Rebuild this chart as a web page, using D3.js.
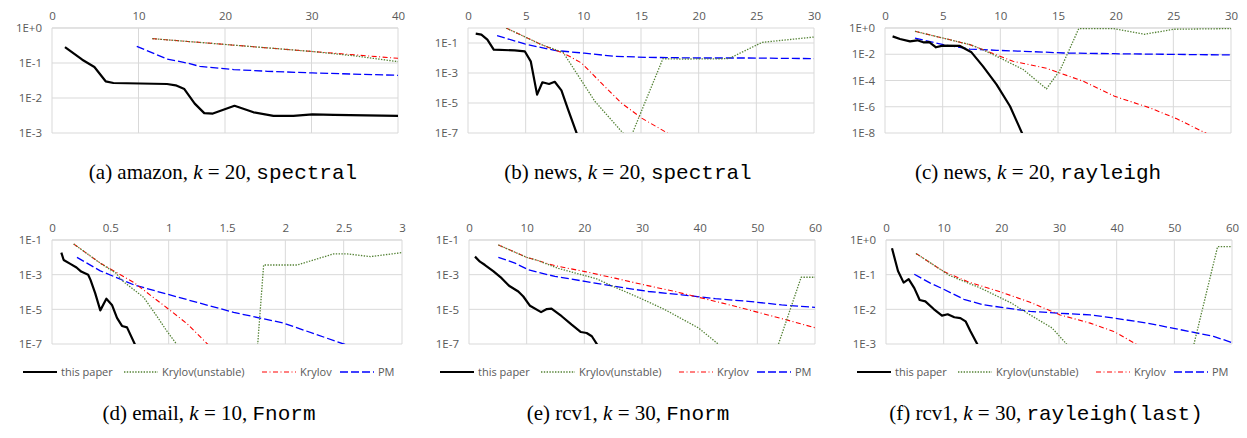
<!DOCTYPE html>
<html><head><meta charset="utf-8">
<script src="https://cdn.jsdelivr.net/npm/d3@7"></script>
<style>
body{margin:0;background:#fff;}
svg{display:block;}
.tick-label{font-family:"Open Sans","Noto Sans",sans-serif;font-size:11.5px;fill:#595959;}
.legend-label{font-family:"Open Sans","Noto Sans",sans-serif;font-size:11px;fill:#595959;}
.caption{font-family:"Liberation Serif","DejaVu Serif",serif;font-size:21px;fill:#000;}
.mono{font-family:"Liberation Mono","DejaVu Sans Mono",monospace;font-size:21px;}
</style></head>
<body>
<svg id="chart" width="1247" height="438"></svg>
<script>
// ---------- DATA ----------
const seriesNames = ["this paper", "Krylov(unstable)", "Krylov", "PM"];

// (a) amazon, k=20, spectral
const a_xTicks = [0, 10, 20, 30, 40];
const a_xLabels = ["0", "10", "20", "30", "40"];
const a_yTicks = [1, 1e-1, 1e-2, 1e-3];
const a_yLabels = ["1E+0", "1E-1", "1E-2", "1E-3"];
const a_thisPaper = [[1.5,0.286],[3.5,0.124],[4.9,0.077],[6.2,0.030],[7.1,0.0268],[13.3,0.0251],[14.3,0.023],[15.3,0.018],[16.5,0.0069],[17.6,0.0037],[18.6,0.0036],[21.1,0.006],[23.3,0.0039],[25.6,0.0031],[27.9,0.0031],[30.1,0.0034],[32.6,0.0033],[40,0.0031]];
const a_krylovUnstable = [[11.6,0.496],[20,0.339],[30,0.214],[35,0.16],[40,0.109]];
const a_krylov = [[11.6,0.496],[20,0.339],[30,0.214],[40,0.136]];
const a_pm = [[9.8,0.30],[12.1,0.173],[13.3,0.13],[15.6,0.10],[17.1,0.080],[21,0.065],[24.9,0.058],[30.1,0.052],[34.5,0.0485],[40,0.0445]];

// (b) news, k=20, spectral
const b_xTicks = [0, 5, 10, 15, 20, 25, 30];
const b_xLabels = ["0", "5", "10", "15", "20", "25", "30"];
const b_yTicks = [1e-1, 1e-3, 1e-5, 1e-7];
const b_yLabels = ["1E-1", "1E-3", "1E-5", "1E-7"];
const b_thisPaper = [[0.67,0.42],[1.16,0.36],[1.68,0.17],[2.23,0.036],[4.05,0.032],[4.92,0.028],[5.44,0.006],[5.99,3.6e-5],[6.45,2.4e-4],[7.03,1.85e-4],[7.52,2.6e-4],[8.1,7e-5],[8.68,3.6e-6],[9.46,8e-8]];
const b_krylovUnstable = [[3.3,1.0],[6.36,0.078],[8.24,0.024],[11,1.3e-5],[14.0,3.2e-8],[16.9,9e-3],[18.5,8.5e-3],[22.6,9e-3],[25.5,0.11],[30,0.25]];
const b_krylov = [[3.3,1.0],[6.36,0.078],[8.39,0.019],[9.83,4.7e-3],[11.57,2.1e-4],[13.3,1e-5],[15.04,1e-6],[17.5,8e-8]];
const b_pm = [[2.52,0.31],[4.92,0.086],[7.52,0.032],[10.1,0.021],[12.7,0.013],[15.6,0.011],[20,0.010],[24.3,0.010],[30,0.0091]];

// (c) news, k=20, rayleigh
const c_xTicks = [0, 5, 10, 15, 20, 25, 30];
const c_xLabels = ["0", "5", "10", "15", "20", "25", "30"];
const c_yTicks = [1, 1e-2, 1e-4, 1e-6, 1e-8];
const c_yLabels = ["1E+0", "1E-2", "1E-4", "1E-6", "1E-8"];
const c_thisPaper = [[0.66,0.23],[1.3,0.145],[2.17,0.096],[2.8,0.115],[3.32,0.081],[3.84,0.085],[4.42,0.034],[5.0,0.045],[6.5,0.043],[7.5,0.014],[8.5,1.2e-3],[9.68,4.9e-5],[10.84,1.1e-6],[11.9,9e-9]];
const c_krylovUnstable = [[2.6,0.56],[7.37,0.054],[8.5,0.022],[10.26,3.9e-3],[12,6.7e-4],[14,2.3e-5],[15.2,6.7e-4],[16.8,0.9],[19.8,0.9],[22.5,0.33],[25,0.8],[30,0.9]];
const c_krylov = [[2.6,0.56],[7.37,0.054],[11.1,2.9e-3],[14,8.5e-4],[17.2,8.7e-5],[19.9,6.3e-6],[23,8e-7],[25.3,1.2e-7],[27.9,9e-9]];
const c_pm = [[2.6,0.17],[5.06,0.054],[7.37,0.025],[9.68,0.020],[12.6,0.016],[15.5,0.0125],[19.8,0.011],[24.1,0.010],[30,0.0088]];

// (d) email, k=10, Fnorm
const d_xTicks = [0, 0.5, 1, 1.5, 2, 2.5, 3];
const d_xLabels = ["0", "0.5", "1", "1.5", "2", "2.5", "3"];
const d_yTicks = [1e-1, 1e-3, 1e-5, 1e-7];
const d_yLabels = ["1E-1", "1E-3", "1E-5", "1E-7"];
const d_thisPaper = [[0.08,0.0187],[0.1,7e-3],[0.157,4.2e-3],[0.21,2.6e-3],[0.25,1.5e-3],[0.31,9.8e-4],[0.33,5e-4],[0.37,8.6e-5],[0.414,8.7e-6],[0.466,4.1e-5],[0.514,1.8e-5],[0.557,3.2e-6],[0.6,1.1e-6],[0.643,9.1e-7],[0.714,8.5e-8]];
const d_krylovUnstable = [[0.186,0.059],[0.414,4.6e-3],[0.55,1.2e-3],[0.6,4.6e-4],[0.786,4.9e-5],[0.9,3.9e-6],[0.986,5.4e-7],[1.70,2e-13],[1.814,3.6e-3],[2.1,3.6e-3],[2.414,0.0158],[2.53,0.0158],[2.73,0.011],[3,0.0187]];
const d_krylov = [[0.186,0.059],[0.414,4.6e-3],[0.7,3.6e-4],[0.986,1.2e-5],[1.157,1.5e-6],[1.343,8.5e-8]];
const d_pm = [[0.214,0.010],[0.414,1.66e-3],[0.7,2.6e-4],[0.986,7.5e-5],[1.557,6.7e-6],[1.986,1.6e-6],[2.53,8.5e-8]];

// (e) rcv1, k=30, Fnorm
const e_xTicks = [0, 10, 20, 30, 40, 50, 60];
const e_xLabels = ["0", "10", "20", "30", "40", "50", "60"];
const e_yTicks = [1e-1, 1e-3, 1e-5, 1e-7];
const e_yLabels = ["1E-1", "1E-3", "1E-5", "1E-7"];
const e_thisPaper = [[1.04,0.011],[1.9,5.6e-3],[2.77,3.6e-3],[4.2,1.6e-3],[5.66,6.3e-4],[6.94,2.3e-4],[8.55,1.07e-4],[9.42,5.5e-5],[10.58,1.6e-5],[12.5,6.9e-6],[13.5,1.04e-5],[14.3,1.1e-5],[16.07,4e-6],[17.8,1.3e-6],[19.4,4.9e-7],[20.4,4.3e-7],[21.3,2.8e-7],[22.3,8.5e-8]];
const e_krylovUnstable = [[5.09,0.052],[10,0.01],[12,6.5e-3],[15.5,2.3e-3],[22.1,5.8e-4],[25.3,1.9e-4],[29.9,4.1e-5],[34,9.5e-6],[39.8,8.4e-7],[51.4,6e-10],[57.6,7.1e-4],[60,7.1e-4]];
const e_krylov = [[5.09,0.052],[10,0.01],[14.9,3.3e-3],[20.1,1.5e-3],[25.3,6.3e-4],[29.9,2.8e-4],[35.7,1.07e-4],[39.8,5e-5],[45.5,1.7e-5],[50.2,6.6e-6],[55.4,2.3e-6],[60,8.7e-7]];
const e_pm = [[5.09,0.010],[7.98,4.6e-3],[10.3,1.9e-3],[14.9,7.9e-4],[20.1,4.1e-4],[25.3,2.1e-4],[31.1,1.07e-4],[36.9,6.9e-5],[42.7,4.1e-5],[48.4,2.9e-5],[54.2,1.8e-5],[60,1.3e-5]];

// (f) rcv1, k=30, rayleigh(last)
const f_xTicks = [0, 10, 20, 30, 40, 50, 60];
const f_xLabels = ["0", "10", "20", "30", "40", "50", "60"];
const f_yTicks = [1, 1e-1, 1e-2, 1e-3];
const f_yLabels = ["1E+0", "1E-1", "1E-2", "1E-3"];
const f_thisPaper = [[1.04,0.575],[2.08,0.128],[3.06,0.059],[3.93,0.074],[4.91,0.041],[5.84,0.0186],[6.82,0.017],[8.27,0.0102],[9.71,6.6e-3],[10.7,7.2e-3],[11.85,5.9e-3],[12.9,5.6e-3],[13.8,4.5e-3],[14.6,2.4e-3],[15.95,9.1e-4]];
const f_krylovUnstable = [[5.2,0.41],[10,0.123],[11,0.095],[16.4,0.041],[21.8,0.015],[25,6.9e-3],[28.8,2.9e-3],[48.7,5.9e-7],[57.5,0.64],[60,0.64]];
const f_krylov = [[5.2,0.41],[10,0.123],[14.6,0.059],[19.8,0.032],[25,0.016],[30.2,6.9e-3],[35.4,4e-3],[39.5,2.3e-3],[43.8,9.1e-4]];
const f_pm = [[4.91,0.103],[7.69,0.057],[10,0.038],[13.5,0.0195],[16.9,0.0135],[21,0.0108],[25,0.0087],[29.7,7.8e-3],[35.4,6.9e-3],[39.5,5.6e-3],[45.3,4e-3],[51,2.6e-3],[56.8,1.66e-3],[60,1.1e-3]];

// captions
const captions = [
  ["(a) amazon, ", "k", " = 20, ", "spectral"],
  ["(b) news, ", "k", " = 20, ", "spectral"],
  ["(c) news, ", "k", " = 20, ", "rayleigh"],
  ["(d) email, ", "k", " = 10, ", "Fnorm"],
  ["(e) rcv1, ", "k", " = 30, ", "Fnorm"],
  ["(f) rcv1, ", "k", " = 30, ", "rayleigh(last)"]
];

// ---------- LAYOUT ----------
const panels = [
  {box:[52,398,28,133], xd:[0,40], yd:[1e-3,1], xt:a_xTicks, xl:a_xLabels, yt:a_yTicks, yl:a_yLabels, s:[a_thisPaper,a_krylovUnstable,a_krylov,a_pm], cap:[223,179], legend:false},
  {box:[468,814,28,133], xd:[0,30], yd:[1e-7,1], xt:b_xTicks, xl:b_xLabels, yt:b_yTicks, yl:b_yLabels, s:[b_thisPaper,b_krylovUnstable,b_krylov,b_pm], cap:[628,179], legend:false},
  {box:[885,1231,28,133], xd:[0,30], yd:[1e-8,1], xt:c_xTicks, xl:c_xLabels, yt:c_yTicks, yl:c_yLabels, s:[c_thisPaper,c_krylovUnstable,c_krylov,c_pm], cap:[1038,179], legend:false},
  {box:[52,402,240,344], xd:[0,3], yd:[1e-7,1e-1], xt:d_xTicks, xl:d_xLabels, yt:d_yTicks, yl:d_yLabels, s:[d_thisPaper,d_krylovUnstable,d_krylov,d_pm], cap:[209,420], legend:true},
  {box:[469,815,240,344], xd:[0,60], yd:[1e-7,1e-1], xt:e_xTicks, xl:e_xLabels, yt:e_yTicks, yl:e_yLabels, s:[e_thisPaper,e_krylovUnstable,e_krylov,e_pm], cap:[628,420], legend:true},
  {box:[886,1232,240,344], xd:[0,60], yd:[1e-3,1], xt:f_xTicks, xl:f_xLabels, yt:f_yTicks, yl:f_yLabels, s:[f_thisPaper,f_krylovUnstable,f_krylov,f_pm], cap:[1046,420], legend:true}
];

const styles = [
  {color:"#000000", width:2.2, dash:null},
  {color:"#548235", width:1.3, dash:"1.4,1.4"},
  {color:"#FF0000", width:1.1, dash:"5,2.5,1,2.5"},
  {color:"#0000FF", width:1.3, dash:"8,3"}
];
const legendOffsets = [9, 110, 248, 326];

const svg = d3.select("#chart");

panels.forEach((p, i) => {
  const [x0, x1, y0, y1] = p.box;
  const x = d3.scaleLinear().domain(p.xd).range([x0, x1]);
  const y = d3.scaleLog().domain(p.yd).range([y1, y0]);
  const g = svg.append("g");

  // grid
  g.selectAll(".vg").data(p.xt).enter().append("line")
    .attr("x1", d => x(d)).attr("x2", d => x(d)).attr("y1", y0).attr("y2", y1)
    .attr("stroke", "#D9D9D9").attr("stroke-width", 1);
  g.selectAll(".hg").data(p.yt.concat([p.yd[1]])).enter().append("line")
    .attr("x1", x0).attr("x2", x1).attr("y1", d => y(d)).attr("y2", d => y(d))
    .attr("stroke", "#D9D9D9").attr("stroke-width", 1);

  // axes (labels only)
  const xAxis = d3.axisTop(x).tickValues(p.xt).tickFormat((d, k) => p.xl[k]).tickSize(0).tickPadding(0);
  const xa = g.append("g").attr("transform", `translate(0,${y0 - 12})`).call(xAxis);
  xa.select(".domain").remove();
  xa.selectAll("text").attr("class", "tick-label").attr("dy", "0.32em").attr("fill", null);

  const yAxis = d3.axisLeft(y).tickValues(p.yt).tickFormat((d, k) => p.yl[k]).tickSize(0).tickPadding(0);
  const ya = g.append("g").attr("transform", `translate(${x0 - 10},0)`).call(yAxis);
  ya.select(".domain").remove();
  ya.selectAll("text").attr("class", "tick-label").attr("fill", null);

  // clip
  const cid = "clip" + i;
  svg.append("clipPath").attr("id", cid).append("rect")
    .attr("x", x0).attr("y", y0).attr("width", x1 - x0).attr("height", y1 - y0);

  const line = d3.line().x(d => x(d[0])).y(d => y(d[1]));
  const lg = g.append("g").attr("clip-path", `url(#${cid})`);
  // draw order: PM, Krylov, Krylov(unstable), this paper
  [3, 2, 1, 0].forEach(k => {
    const st = styles[k];
    lg.append("path").datum(p.s[k]).attr("d", line)
      .attr("fill", "none").attr("stroke", st.color).attr("stroke-width", st.width)
      .attr("stroke-dasharray", st.dash).attr("stroke-linejoin", "round");
  });

  // legend
  if (p.legend) {
    const ly = 372;
    seriesNames.forEach((name, k) => {
      const tx = x0 + legendOffsets[k];
      const st = styles[k];
      g.append("line").attr("x1", tx - 38).attr("x2", tx - 4).attr("y1", ly).attr("y2", ly)
        .attr("stroke", st.color).attr("stroke-width", st.width).attr("stroke-dasharray", st.dash);
      g.append("text").attr("class", "legend-label").attr("x", tx).attr("y", ly).attr("dy", "0.35em").text(name);
    });
  }

  // caption
  const c = captions[i];
  const t = svg.append("text").attr("class", "caption").attr("x", p.cap[0]).attr("y", p.cap[1]).attr("text-anchor", "middle");
  t.append("tspan").text(c[0]);
  t.append("tspan").attr("font-style", "italic").text(c[1]);
  t.append("tspan").text(c[2]);
  t.append("tspan").attr("class", "mono").text(c[3]);
});
</script>
</body></html>
